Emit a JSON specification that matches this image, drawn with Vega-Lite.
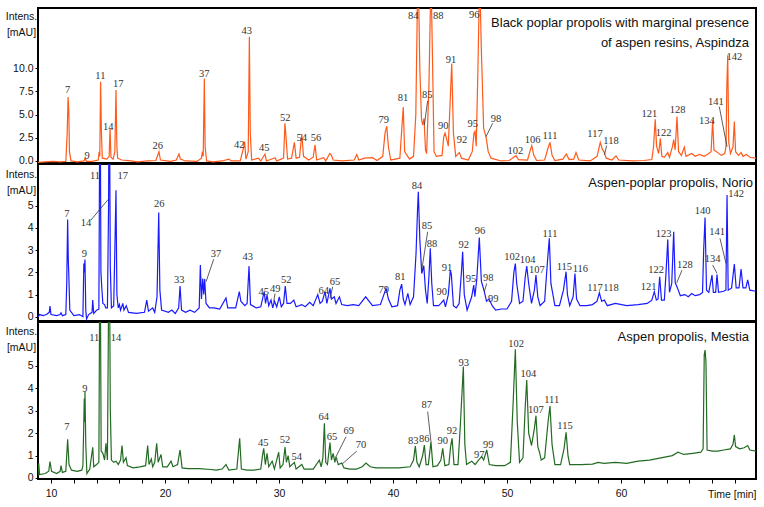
{
  "$schema": "https://vega.github.io/schema/vega-lite/v6.json",
  "background": "white",
  "padding": {"left": 4, "top": 7, "right": 5, "bottom": 5},
  "bounds": "flush",
  "spacing": 1,
  "datasets": {
    "a": [
      {"t":8.86,"v":-0.15},{"t":9.5,"v":-0.1},{"t":10.2,"v":-0.05},{"t":10.8,"v":-0.1},{"t":11.3,"v":-0.05},{"t":11.42,"v":3.0},{"t":11.5,"v":6.9},{"t":11.56,"v":5.5},{"t":11.62,"v":1.0},{"t":11.75,"v":0.0},
      {"t":12.3,"v":-0.1},{"t":12.9,"v":0.0},{"t":13.0,"v":0.35},{"t":13.1,"v":-0.05},{"t":13.6,"v":-0.05},{"t":14.15,"v":0.1},{"t":14.22,"v":1.0},{"t":14.28,"v":0.5},{"t":14.35,"v":8.55},{"t":14.42,"v":3.2},
      {"t":14.5,"v":0.3},{"t":14.9,"v":0.2},{"t":15.1,"v":0.5},{"t":15.18,"v":3.5},{"t":15.26,"v":0.4},{"t":15.45,"v":0.2},{"t":15.6,"v":1.0},{"t":15.7,"v":7.65},{"t":15.78,"v":1.5},{"t":15.85,"v":0.3},
      {"t":16.2,"v":0.1},{"t":17.0,"v":0.0},{"t":17.6,"v":-0.1},{"t":18.5,"v":0.0},{"t":19.2,"v":0.05},{"t":19.47,"v":1.0},{"t":19.6,"v":0.1},{"t":20.5,"v":-0.05},{"t":21.0,"v":0.1},{"t":21.1,"v":0.4},
      {"t":21.23,"v":0.75},{"t":21.35,"v":0.2},{"t":21.8,"v":0.0},{"t":22.8,"v":-0.05},{"t":23.2,"v":0.3},{"t":23.28,"v":1.0},{"t":23.35,"v":0.5},{"t":23.45,"v":8.9},{"t":23.52,"v":1.5},{"t":23.65,"v":0.0},
      {"t":24.2,"v":-0.1},{"t":25.0,"v":0.0},{"t":25.6,"v":0.2},{"t":25.8,"v":0.0},{"t":26.6,"v":0.0},{"t":26.9,"v":1.5},{"t":26.98,"v":2.1},{"t":27.1,"v":0.2},{"t":27.3,"v":1.0},{"t":27.4,"v":13.4},
      {"t":27.48,"v":3.0},{"t":27.6,"v":0.1},{"t":28.2,"v":0.3},{"t":28.4,"v":0.0},{"t":28.77,"v":0.75},{"t":28.9,"v":0.0},{"t":29.65,"v":0.35},{"t":29.8,"v":0.0},{"t":30.4,"v":0.3},{"t":30.52,"v":4.05},
      {"t":30.62,"v":2.5},{"t":30.75,"v":0.2},{"t":31.1,"v":0.3},{"t":31.35,"v":2.0},{"t":31.5,"v":0.3},{"t":31.8,"v":0.4},{"t":32.0,"v":2.9},{"t":32.15,"v":0.5},{"t":32.6,"v":0.1},{"t":33.0,"v":0.4},
      {"t":33.16,"v":1.75},{"t":33.3,"v":0.1},{"t":33.92,"v":0.35},{"t":34.1,"v":0.0},{"t":34.45,"v":0.8},{"t":34.6,"v":0.6},{"t":34.75,"v":0.1},{"t":35.5,"v":0.0},{"t":36.6,"v":0.1},{"t":36.82,"v":0.7},
      {"t":37.0,"v":0.1},{"t":37.5,"v":0.3},{"t":38.2,"v":0.35},{"t":38.6,"v":0.05},{"t":39.1,"v":0.5},{"t":39.3,"v":3.0},{"t":39.45,"v":3.75},{"t":39.6,"v":1.5},{"t":39.8,"v":0.1},{"t":40.6,"v":0.3},
      {"t":40.8,"v":4.0},{"t":40.9,"v":5.8},{"t":41.02,"v":1.0},{"t":41.29,"v":0.5},{"t":41.45,"v":0.2},{"t":41.8,"v":0.5},{"t":42.0,"v":5.0},{"t":42.15,"v":18.0},{"t":42.22,"v":20.0},{"t":42.35,"v":10.0},
      {"t":42.5,"v":4.5},{"t":42.6,"v":3.9},{"t":42.72,"v":4.6},{"t":42.85,"v":1.2},{"t":42.95,"v":0.8},{"t":43.15,"v":8.0},{"t":43.33,"v":20.0},{"t":43.45,"v":12.0},{"t":43.6,"v":1.0},{"t":43.8,"v":0.5},
      {"t":44.3,"v":0.6},{"t":44.45,"v":2.6},{"t":44.56,"v":3.0},{"t":44.7,"v":2.4},{"t":44.85,"v":1.6},{"t":45.0,"v":6.0},{"t":45.15,"v":10.5},{"t":45.3,"v":3.0},{"t":45.5,"v":0.5},{"t":45.82,"v":0.9},
      {"t":46.0,"v":0.3},{"t":46.6,"v":0.1},{"t":46.95,"v":1.0},{"t":47.1,"v":3.0},{"t":47.19,"v":3.2},{"t":47.3,"v":1.6},{"t":47.45,"v":10.0},{"t":47.6,"v":20.0},{"t":47.75,"v":12.0},{"t":47.95,"v":3.5},
      {"t":48.16,"v":2.6},{"t":48.35,"v":1.0},{"t":48.6,"v":0.3},{"t":49.5,"v":0.0},{"t":50.2,"v":0.05},{"t":50.65,"v":0.45},{"t":50.79,"v":0.57},{"t":51.0,"v":0.15},{"t":51.8,"v":0.1},{"t":52.05,"v":1.2},
      {"t":52.17,"v":1.65},{"t":52.35,"v":0.6},{"t":52.6,"v":0.05},{"t":53.3,"v":0.1},{"t":53.6,"v":1.4},{"t":53.77,"v":2.0},{"t":53.95,"v":0.6},{"t":54.2,"v":0.05},{"t":54.9,"v":0.2},{"t":55.2,"v":0.75},
      {"t":55.45,"v":0.15},{"t":55.85,"v":0.2},{"t":56.05,"v":0.9},{"t":56.3,"v":0.1},{"t":57.3,"v":0.0},{"t":57.9,"v":0.5},{"t":58.18,"v":2.0},{"t":58.35,"v":1.3},{"t":58.54,"v":0.9},{"t":58.7,"v":0.3},
      {"t":59.2,"v":0.1},{"t":59.56,"v":0.55},{"t":59.8,"v":0.1},{"t":61.0,"v":0.0},{"t":62.0,"v":0.05},{"t":62.7,"v":0.15},{"t":62.85,"v":1.5},{"t":63.0,"v":4.5},{"t":63.12,"v":1.6},{"t":63.3,"v":0.8},
      {"t":63.45,"v":2.45},{"t":63.58,"v":0.5},{"t":63.8,"v":0.4},{"t":64.1,"v":0.9},{"t":64.25,"v":0.4},{"t":64.5,"v":1.5},{"t":64.62,"v":2.3},{"t":64.75,"v":1.2},{"t":64.91,"v":4.8},{"t":65.05,"v":1.0},
      {"t":65.3,"v":0.6},{"t":65.55,"v":1.5},{"t":65.7,"v":0.5},{"t":66.2,"v":0.8},{"t":66.5,"v":0.5},{"t":66.9,"v":0.7},{"t":67.3,"v":0.5},{"t":67.7,"v":0.8},{"t":67.9,"v":1.0},{"t":68.04,"v":4.4},
      {"t":68.15,"v":1.2},{"t":68.48,"v":0.9},{"t":68.8,"v":0.6},{"t":69.1,"v":0.8},{"t":69.21,"v":1.6},{"t":69.28,"v":8.0},{"t":69.36,"v":11.4},{"t":69.45,"v":2.0},{"t":69.6,"v":0.8},{"t":69.82,"v":1.5},
      {"t":69.94,"v":4.25},{"t":70.05,"v":1.0},{"t":70.3,"v":0.6},{"t":70.53,"v":0.9},{"t":70.7,"v":0.5},{"t":71.0,"v":0.7},{"t":71.3,"v":0.4},{"t":71.84,"v":0.3}
    ],
    "b": [
      {"t":8.86,"v":0.0},{"t":9.0,"v":0.1},{"t":9.3,"v":0.05},{"t":9.6,"v":0.1},{"t":9.85,"v":0.2},{"t":9.91,"v":0.48},{"t":10.0,"v":0.1},{"t":10.5,"v":0.05},{"t":10.8,"v":0.1},{"t":10.88,"v":0.18},
      {"t":11.0,"v":0.05},{"t":11.3,"v":0.1},{"t":11.38,"v":1.5},{"t":11.46,"v":4.38},{"t":11.52,"v":2.5},{"t":11.56,"v":1.9},{"t":11.65,"v":0.3},{"t":12.0,"v":0.05},{"t":12.5,"v":0.1},{"t":12.8,"v":0.0},
      {"t":12.88,"v":2.4},{"t":12.92,"v":2.0},{"t":12.98,"v":2.58},{"t":13.05,"v":0.3},{"t":13.12,"v":-0.1},{"t":13.3,"v":0.1},{"t":13.6,"v":0.2},{"t":13.66,"v":0.75},{"t":13.75,"v":0.15},{"t":14.0,"v":0.3},
      {"t":14.2,"v":0.35},{"t":14.3,"v":12.0},{"t":14.38,"v":2.0},{"t":14.45,"v":1.35},{"t":14.55,"v":0.6},{"t":14.7,"v":0.55},{"t":14.8,"v":0.4},{"t":14.95,"v":0.4},{"t":15.05,"v":5.0},{"t":15.11,"v":12.0},
      {"t":15.2,"v":2.3},{"t":15.3,"v":0.4},{"t":15.5,"v":0.5},{"t":15.6,"v":3.0},{"t":15.7,"v":5.7},{"t":15.78,"v":1.0},{"t":15.9,"v":0.4},{"t":16.0,"v":0.55},{"t":16.1,"v":0.3},{"t":16.3,"v":0.6},
      {"t":16.4,"v":0.3},{"t":16.6,"v":0.5},{"t":16.8,"v":0.2},{"t":17.5,"v":0.15},{"t":18.2,"v":0.2},{"t":18.4,"v":0.75},{"t":18.55,"v":0.25},{"t":18.92,"v":0.4},{"t":19.1,"v":0.2},{"t":19.3,"v":0.9},
      {"t":19.45,"v":4.7},{"t":19.55,"v":1.2},{"t":19.7,"v":0.3},{"t":20.3,"v":0.2},{"t":20.6,"v":0.3},{"t":20.9,"v":0.15},{"t":21.2,"v":0.4},{"t":21.32,"v":1.38},{"t":21.45,"v":0.3},{"t":21.8,"v":0.2},
      {"t":22.2,"v":0.3},{"t":22.6,"v":0.2},{"t":23.0,"v":0.4},{"t":23.1,"v":2.33},{"t":23.2,"v":0.8},{"t":23.31,"v":1.72},{"t":23.4,"v":1.0},{"t":23.48,"v":1.7},{"t":23.6,"v":0.6},{"t":23.9,"v":0.4},
      {"t":24.3,"v":0.4},{"t":24.8,"v":0.35},{"t":25.35,"v":0.85},{"t":25.5,"v":0.4},{"t":26.2,"v":0.4},{"t":26.52,"v":1.13},{"t":26.65,"v":0.7},{"t":27.0,"v":0.5},{"t":27.2,"v":0.6},{"t":27.37,"v":2.28},
      {"t":27.5,"v":0.55},{"t":28.0,"v":0.4},{"t":28.4,"v":0.45},{"t":28.7,"v":1.13},{"t":28.82,"v":0.6},{"t":28.95,"v":0.98},{"t":29.1,"v":0.5},{"t":29.3,"v":0.75},{"t":29.45,"v":0.4},{"t":29.6,"v":0.7},
      {"t":29.8,"v":0.45},{"t":30.03,"v":0.9},{"t":30.2,"v":0.45},{"t":30.4,"v":0.6},{"t":30.55,"v":1.38},{"t":30.7,"v":0.6},{"t":31.0,"v":0.6},{"t":31.3,"v":0.75},{"t":31.5,"v":0.45},{"t":32.0,"v":0.55},
      {"t":32.3,"v":0.45},{"t":32.7,"v":0.65},{"t":33.0,"v":0.5},{"t":33.4,"v":1.0},{"t":33.6,"v":0.6},{"t":33.8,"v":0.7},{"t":34.04,"v":1.13},{"t":34.2,"v":0.6},{"t":34.47,"v":1.28},{"t":34.6,"v":0.8},
      {"t":34.85,"v":0.9},{"t":35.0,"v":0.6},{"t":35.3,"v":0.9},{"t":35.5,"v":0.55},{"t":36.0,"v":0.5},{"t":36.5,"v":0.55},{"t":37.0,"v":0.5},{"t":37.6,"v":0.9},{"t":38.2,"v":0.5},{"t":38.9,"v":0.55},
      {"t":39.2,"v":1.0},{"t":39.39,"v":1.28},{"t":39.6,"v":0.8},{"t":39.9,"v":0.45},{"t":40.4,"v":0.5},{"t":40.6,"v":1.2},{"t":40.76,"v":1.47},{"t":40.9,"v":0.8},{"t":41.05,"v":0.55},{"t":41.3,"v":1.05},
      {"t":41.5,"v":0.55},{"t":41.8,"v":0.9},{"t":42.02,"v":2.85},{"t":42.15,"v":4.8},{"t":42.22,"v":5.63},{"t":42.35,"v":3.5},{"t":42.52,"v":1.95},{"t":42.7,"v":2.3},{"t":42.85,"v":1.2},{"t":43.0,"v":0.6},
      {"t":43.15,"v":1.8},{"t":43.27,"v":3.08},{"t":43.4,"v":1.5},{"t":43.55,"v":0.5},{"t":44.0,"v":0.5},{"t":44.2,"v":0.6},{"t":44.45,"v":0.75},{"t":44.6,"v":0.45},{"t":44.85,"v":1.0},{"t":45.03,"v":2.1},
      {"t":45.12,"v":1.9},{"t":45.3,"v":0.5},{"t":45.55,"v":0.4},{"t":45.8,"v":0.6},{"t":46.0,"v":2.0},{"t":46.11,"v":2.93},{"t":46.25,"v":1.0},{"t":46.5,"v":0.3},{"t":46.9,"v":0.9},{"t":47.08,"v":1.43},
      {"t":47.18,"v":0.9},{"t":47.35,"v":1.7},{"t":47.57,"v":3.57},{"t":47.75,"v":1.6},{"t":48.01,"v":1.13},{"t":48.2,"v":0.7},{"t":48.42,"v":0.8},{"t":48.7,"v":0.5},{"t":49.0,"v":0.3},{"t":49.5,"v":0.35},
      {"t":50.0,"v":0.35},{"t":50.4,"v":0.7},{"t":50.6,"v":2.0},{"t":50.73,"v":2.4},{"t":50.85,"v":1.5},{"t":51.1,"v":0.6},{"t":51.4,"v":0.7},{"t":51.6,"v":1.8},{"t":51.73,"v":2.28},{"t":51.9,"v":1.5},
      {"t":52.15,"v":0.6},{"t":52.4,"v":1.2},{"t":52.54,"v":1.88},{"t":52.7,"v":0.9},{"t":52.9,"v":0.5},{"t":53.3,"v":0.7},{"t":53.55,"v":2.5},{"t":53.71,"v":3.53},{"t":53.85,"v":1.5},{"t":54.2,"v":0.5},
      {"t":54.6,"v":0.5},{"t":54.95,"v":1.2},{"t":55.18,"v":2.03},{"t":55.3,"v":1.0},{"t":55.5,"v":0.5},{"t":55.8,"v":0.9},{"t":55.96,"v":1.95},{"t":56.1,"v":0.8},{"t":56.4,"v":0.5},{"t":57.0,"v":0.5},
      {"t":57.5,"v":0.55},{"t":57.9,"v":0.7},{"t":58.1,"v":1.08},{"t":58.3,"v":0.7},{"t":58.54,"v":0.75},{"t":58.8,"v":0.5},{"t":59.5,"v":0.6},{"t":60.5,"v":0.5},{"t":61.5,"v":0.55},{"t":62.3,"v":0.6},
      {"t":62.7,"v":0.75},{"t":62.92,"v":1.13},{"t":63.1,"v":0.75},{"t":63.25,"v":0.8},{"t":63.39,"v":1.8},{"t":63.55,"v":0.75},{"t":63.8,"v":0.75},{"t":63.95,"v":2.0},{"t":64.1,"v":3.48},{"t":64.25,"v":1.1},
      {"t":64.45,"v":1.5},{"t":64.62,"v":3.83},{"t":64.75,"v":1.55},{"t":64.95,"v":1.3},{"t":65.2,"v":0.95},{"t":65.6,"v":1.0},{"t":65.9,"v":0.9},{"t":66.2,"v":1.05},{"t":66.5,"v":0.95},{"t":66.9,"v":1.0},
      {"t":67.15,"v":1.1},{"t":67.25,"v":3.0},{"t":67.37,"v":4.47},{"t":67.5,"v":1.2},{"t":67.7,"v":1.1},{"t":67.98,"v":1.88},{"t":68.1,"v":1.1},{"t":68.3,"v":1.1},{"t":68.42,"v":1.9},{"t":68.55,"v":1.1},
      {"t":69.0,"v":1.15},{"t":69.2,"v":1.2},{"t":69.3,"v":5.48},{"t":69.4,"v":1.2},{"t":69.7,"v":1.3},{"t":69.94,"v":2.37},{"t":70.1,"v":1.3},{"t":70.35,"v":1.3},{"t":70.53,"v":2.15},{"t":70.7,"v":1.3},
      {"t":70.95,"v":1.3},{"t":71.11,"v":1.66},{"t":71.3,"v":1.2},{"t":71.84,"v":1.15}
    ],
    "c": [
      {"t":8.86,"v":0.1},{"t":8.92,"v":0.65},{"t":9.0,"v":0.15},{"t":9.5,"v":0.2},{"t":9.8,"v":0.3},{"t":9.91,"v":0.73},{"t":10.05,"v":0.3},{"t":10.5,"v":0.2},{"t":10.8,"v":0.3},{"t":10.88,"v":0.55},
      {"t":11.0,"v":0.25},{"t":11.3,"v":0.3},{"t":11.46,"v":1.73},{"t":11.58,"v":0.6},{"t":11.8,"v":0.35},{"t":12.3,"v":0.3},{"t":12.7,"v":0.35},{"t":12.8,"v":0.55},{"t":12.92,"v":3.55},{"t":12.95,"v":2.5},
      {"t":12.98,"v":3.85},{"t":13.05,"v":1.5},{"t":13.15,"v":0.2},{"t":13.4,"v":0.4},{"t":13.66,"v":1.37},{"t":13.75,"v":0.5},{"t":14.0,"v":0.6},{"t":14.2,"v":0.7},{"t":14.3,"v":12.0},{"t":14.4,"v":1.2},
      {"t":14.55,"v":1.1},{"t":14.7,"v":0.8},{"t":14.82,"v":1.55},{"t":14.95,"v":0.8},{"t":15.11,"v":12.0},{"t":15.2,"v":3.1},{"t":15.3,"v":0.8},{"t":15.5,"v":0.7},{"t":15.7,"v":0.75},{"t":15.9,"v":0.6},
      {"t":16.1,"v":0.8},{"t":16.23,"v":1.45},{"t":16.35,"v":0.7},{"t":16.58,"v":0.9},{"t":16.7,"v":0.55},{"t":17.2,"v":0.45},{"t":17.8,"v":0.5},{"t":18.3,"v":0.55},{"t":18.48,"v":1.45},{"t":18.6,"v":0.6},
      {"t":18.8,"v":0.85},{"t":18.92,"v":0.5},{"t":19.1,"v":0.7},{"t":19.27,"v":1.55},{"t":19.4,"v":0.7},{"t":19.65,"v":1.05},{"t":19.8,"v":0.5},{"t":20.2,"v":0.5},{"t":20.53,"v":0.75},{"t":20.7,"v":0.5},
      {"t":21.1,"v":0.6},{"t":21.32,"v":1.25},{"t":21.5,"v":0.45},{"t":22.0,"v":0.42},{"t":23.0,"v":0.42},{"t":24.0,"v":0.38},{"t":24.5,"v":0.35},{"t":25.0,"v":0.4},{"t":25.35,"v":0.6},{"t":25.6,"v":0.35},
      {"t":26.3,"v":0.4},{"t":26.55,"v":1.77},{"t":26.7,"v":0.4},{"t":27.2,"v":0.35},{"t":27.8,"v":0.35},{"t":28.4,"v":0.4},{"t":28.55,"v":1.0},{"t":28.66,"v":1.32},{"t":28.8,"v":0.6},{"t":28.95,"v":1.1},
      {"t":29.1,"v":0.5},{"t":29.4,"v":0.75},{"t":29.6,"v":0.4},{"t":29.97,"v":1.15},{"t":30.1,"v":0.45},{"t":30.35,"v":0.6},{"t":30.53,"v":1.38},{"t":30.65,"v":0.7},{"t":30.8,"v":1.0},{"t":30.95,"v":0.5},
      {"t":31.35,"v":0.7},{"t":31.5,"v":0.4},{"t":32.0,"v":0.6},{"t":32.2,"v":0.4},{"t":33.0,"v":0.4},{"t":33.54,"v":0.8},{"t":33.7,"v":0.5},{"t":33.85,"v":0.9},{"t":33.98,"v":2.44},{"t":34.1,"v":0.7},
      {"t":34.25,"v":0.6},{"t":34.47,"v":1.58},{"t":34.6,"v":0.8},{"t":34.75,"v":1.1},{"t":34.9,"v":0.7},{"t":35.0,"v":0.95},{"t":35.2,"v":0.6},{"t":35.5,"v":0.67},{"t":35.7,"v":0.45},{"t":36.2,"v":0.4},
      {"t":36.8,"v":0.4},{"t":37.3,"v":0.5},{"t":37.63,"v":0.67},{"t":38.0,"v":0.5},{"t":38.5,"v":0.45},{"t":39.5,"v":0.45},{"t":40.5,"v":0.45},{"t":41.5,"v":0.5},{"t":41.8,"v":0.8},{"t":41.96,"v":1.43},
      {"t":42.1,"v":0.7},{"t":42.3,"v":0.5},{"t":42.6,"v":1.0},{"t":42.75,"v":1.47},{"t":42.9,"v":0.6},{"t":43.1,"v":0.6},{"t":43.33,"v":1.62},{"t":43.5,"v":0.5},{"t":43.9,"v":0.55},{"t":44.2,"v":0.8},
      {"t":44.36,"v":1.32},{"t":44.55,"v":0.55},{"t":44.9,"v":0.6},{"t":45.05,"v":1.4},{"t":45.18,"v":1.77},{"t":45.35,"v":0.6},{"t":45.7,"v":0.6},{"t":45.9,"v":2.3},{"t":46.17,"v":4.97},{"t":46.3,"v":1.5},
      {"t":46.45,"v":0.6},{"t":46.9,"v":0.75},{"t":47.2,"v":0.6},{"t":47.5,"v":0.8},{"t":47.78,"v":0.95},{"t":47.95,"v":0.8},{"t":48.22,"v":1.25},{"t":48.45,"v":0.6},{"t":49.0,"v":0.55},{"t":49.8,"v":0.55},
      {"t":50.3,"v":0.7},{"t":50.55,"v":3.5},{"t":50.73,"v":5.74},{"t":50.9,"v":2.5},{"t":51.1,"v":0.7},{"t":51.4,"v":0.9},{"t":51.6,"v":3.2},{"t":51.73,"v":4.37},{"t":51.9,"v":2.0},{"t":52.15,"v":1.45},
      {"t":52.4,"v":2.2},{"t":52.54,"v":2.78},{"t":52.7,"v":1.4},{"t":52.85,"v":1.15},{"t":53.0,"v":0.8},{"t":53.3,"v":0.9},{"t":53.6,"v":2.5},{"t":53.77,"v":3.21},{"t":53.95,"v":1.5},{"t":54.2,"v":0.6},
      {"t":54.7,"v":0.6},{"t":55.0,"v":1.3},{"t":55.18,"v":2.04},{"t":55.35,"v":1.0},{"t":55.5,"v":0.6},{"t":56.5,"v":0.6},{"t":57.5,"v":0.62},{"t":58.0,"v":0.7},{"t":58.5,"v":0.65},{"t":59.5,"v":0.7},
      {"t":60.5,"v":0.65},{"t":61.5,"v":0.75},{"t":62.5,"v":0.8},{"t":63.5,"v":0.9},{"t":64.5,"v":1.0},{"t":65.0,"v":1.15},{"t":65.5,"v":1.05},{"t":66.3,"v":1.1},{"t":67.0,"v":1.15},{"t":67.2,"v":1.3},
      {"t":67.3,"v":5.5},{"t":67.37,"v":5.71},{"t":67.45,"v":5.2},{"t":67.55,"v":1.25},{"t":68.0,"v":1.2},{"t":68.5,"v":1.2},{"t":69.0,"v":1.25},{"t":69.6,"v":1.3},{"t":69.82,"v":1.5},{"t":69.94,"v":1.92},
      {"t":70.05,"v":1.4},{"t":70.4,"v":1.3},{"t":70.8,"v":1.35},{"t":71.11,"v":1.45},{"t":71.3,"v":1.25},{"t":71.84,"v":1.2}
    ],
    "la": [
      {"n":"7","t":11.46,"v":7.33},{"n":"9","t":13.16,"v":0.18},{"n":"11","t":14.33,"v":8.84},{"n":"14","t":15.03,"v":3.34},{"n":"17","t":15.9,"v":7.94},
      {"n":"26","t":19.36,"v":1.29},{"n":"37","t":23.45,"v":9.0},{"n":"42","t":26.52,"v":1.37},{"n":"43","t":27.16,"v":13.69},{"n":"45","t":28.71,"v":1.11},
      {"n":"52","t":30.55,"v":4.34},{"n":"54","t":31.99,"v":2.19},{"n":"56","t":33.25,"v":2.19},{"n":"79","t":39.18,"v":4.13},{"n":"81","t":40.88,"v":6.5},
      {"n":"84","t":41.78,"v":15.3},{"n":"85","t":43.0,"v":6.76},{"n":"88","t":43.97,"v":15.27},{"n":"90","t":44.41,"v":3.45},{"n":"91","t":45.09,"v":10.53},
      {"n":"92","t":46.05,"v":1.9},{"n":"95","t":46.99,"v":3.7},{"n":"96","t":47.13,"v":15.38},{"n":"98","t":49.04,"v":4.24},{"n":"102","t":50.73,"v":0.75},
      {"n":"106","t":52.25,"v":1.97},{"n":"111","t":53.77,"v":2.34},{"n":"117","t":57.72,"v":2.62},{"n":"118","t":59.12,"v":1.8},{"n":"121","t":62.48,"v":4.7},
      {"n":"122","t":63.74,"v":2.69},{"n":"128","t":64.97,"v":5.14},{"n":"134","t":67.54,"v":3.99},{"n":"141","t":68.33,"v":6.03},{"n":"142","t":69.94,"v":10.88}
    ],
    "ka": [
      {"t":43.04,"v":6.5,"t2":42.75,"v2":3.88},{"t":48.74,"v":4.06,"t2":48.16,"v2":2.62},{"t":58.74,"v":1.65,"t2":58.54,"v2":0.65},{"t":68.62,"v":5.85,"t2":69.3,"v2":1.54}
    ],
    "ta": [
      {"txt":"Black poplar propolis with marginal presence","t":71.23,"v":14.41},
      {"txt":"of aspen resins, Aspindza","t":71.23,"v":12.31}
    ],
    "lb": [
      {"n":"7","t":11.4,"v":4.5},{"n":"9","t":12.92,"v":2.68},{"n":"11","t":13.86,"v":6.19},{"n":"14","t":13.07,"v":4.09},{"n":"17","t":16.29,"v":6.19},
      {"n":"26","t":19.5,"v":4.95},{"n":"33","t":21.25,"v":1.53},{"n":"37","t":24.47,"v":2.7},{"n":"43","t":27.25,"v":2.55},{"n":"45","t":28.66,"v":0.98},
      {"n":"49","t":29.68,"v":1.13},{"n":"52","t":30.64,"v":1.53},{"n":"64","t":33.92,"v":1.01},{"n":"65","t":34.91,"v":1.43},{"n":"79","t":39.18,"v":1.05},
      {"n":"81","t":40.64,"v":1.65},{"n":"84","t":42.1,"v":5.74},{"n":"85","t":42.98,"v":3.94},{"n":"88","t":43.42,"v":3.15},{"n":"90","t":44.27,"v":0.98},
      {"n":"91","t":44.74,"v":2.07},{"n":"92","t":46.2,"v":3.08},{"n":"95","t":46.84,"v":1.58},{"n":"96","t":47.63,"v":3.73},{"n":"98","t":48.36,"v":1.62},
      {"n":"99","t":48.8,"v":0.68},{"n":"102","t":50.44,"v":2.55},{"n":"104","t":51.81,"v":2.4},{"n":"107","t":52.63,"v":1.95},{"n":"111","t":53.77,"v":3.6},
      {"n":"115","t":55.03,"v":2.1},{"n":"116","t":56.43,"v":2.03},{"n":"117","t":57.72,"v":1.17},{"n":"118","t":59.12,"v":1.17},{"n":"121","t":62.43,"v":1.2},
      {"n":"122","t":63.07,"v":1.95},{"n":"123","t":63.74,"v":3.58},{"n":"128","t":65.61,"v":2.18},{"n":"134","t":68.04,"v":2.48},{"n":"140","t":67.16,"v":4.61},
      {"n":"141","t":68.42,"v":3.68},{"n":"142","t":70.09,"v":5.38}
    ],
    "kb": [
      {"t":13.51,"v":4.36,"t2":15.03,"v2":5.29},{"t":24.27,"v":2.59,"t2":23.6,"v2":1.58},{"t":29.65,"v":1.05,"t2":29.53,"v2":0.68},{"t":34.71,"v":1.35,"t2":34.47,"v2":0.83},
      {"t":43.04,"v":3.83,"t2":42.52,"v2":2.1},{"t":48.22,"v":1.5,"t2":48.01,"v2":1.13},{"t":65.35,"v":2.1,"t2":64.89,"v2":1.53},{"t":68.04,"v":2.33,"t2":68.42,"v2":1.95},
      {"t":68.68,"v":3.53,"t2":69.21,"v2":2.4}
    ],
    "tb": [
      {"txt":"Aspen-poplar propolis, Norio","t":71.58,"v":5.86}
    ],
    "lc": [
      {"n":"7","t":11.4,"v":2.14},{"n":"9","t":12.98,"v":3.82},{"n":"11","t":13.8,"v":6.13},{"n":"14","t":15.7,"v":6.13},{"n":"45","t":28.62,"v":1.43},
      {"n":"52","t":30.53,"v":1.55},{"n":"54","t":31.55,"v":0.8},{"n":"64","t":33.92,"v":2.59},{"n":"65","t":34.65,"v":1.7},{"n":"69","t":36.11,"v":1.96},
      {"n":"70","t":37.19,"v":1.33},{"n":"83","t":41.78,"v":1.52},{"n":"86","t":42.75,"v":1.62},{"n":"87","t":42.96,"v":3.11},{"n":"90","t":44.36,"v":1.52},
      {"n":"92","t":45.18,"v":1.95},{"n":"93","t":46.2,"v":5.01},{"n":"97","t":47.57,"v":0.88},{"n":"99","t":48.36,"v":1.33},{"n":"102","t":50.79,"v":5.86},
      {"n":"104","t":51.87,"v":4.52},{"n":"107","t":52.54,"v":2.92},{"n":"111","t":53.92,"v":3.33},{"n":"115","t":55.09,"v":2.17}
    ],
    "kc": [
      {"t":35.88,"v":1.84,"t2":35.0,"v2":0.95},{"t":36.82,"v":1.2,"t2":35.53,"v2":0.62},{"t":43.04,"v":2.96,"t2":43.33,"v2":1.62}
    ],
    "tc": [
      {"txt":"Aspen propolis, Mestia","t":71.23,"v":6.13}
    ]
  },
  "vconcat": [
    {
      "width": 718, "height": 155,
      "encoding": {
        "x": {"field": "t", "type": "quantitative", "scale": {"domain": [8.86, 71.84], "nice": false, "zero": false}, "axis": null},
        "y": {"field": "v", "type": "quantitative", "scale": {"domain": [-0.22, 16.49], "nice": false, "zero": false},
          "axis": {"values": [0, 2.5, 5, 7.5, 10], "format": ".1f", "title": ["Intens.", "[mAU]"], "titleY": 3}}
      },
      "layer": [
        {"data": {"name": "a"}, "mark": {"type": "line", "color": "#FF5A1A", "strokeWidth": 1.2, "clip": true}},
        {"data": {"name": "ka"}, "mark": {"type": "rule", "color": "#333", "strokeWidth": 0.8}, "encoding": {"x2": {"field": "t2"}, "y2": {"field": "v2"}}},
        {"data": {"name": "la"}, "mark": {"type": "text", "font": "Liberation Serif", "fontSize": 10.5, "color": "#333", "baseline": "alphabetic", "align": "center"}, "encoding": {"text": {"field": "n"}}},
        {"data": {"name": "ta"}, "mark": {"type": "text", "font": "Liberation Sans", "fontSize": 13, "color": "#111", "align": "right", "baseline": "alphabetic"}, "encoding": {"text": {"field": "txt"}}}
      ]
    },
    {
      "width": 718, "height": 157,
      "encoding": {
        "x": {"field": "t", "type": "quantitative", "scale": {"domain": [8.86, 71.84], "nice": false, "zero": false}, "axis": null},
        "y": {"field": "v", "type": "quantitative", "scale": {"domain": [-0.19, 6.88], "nice": false, "zero": false},
          "axis": {"values": [0, 1, 2, 3, 4, 5], "format": "d", "title": ["Intens.", "[mAU]"], "titleY": 5}}
      },
      "layer": [
        {"data": {"name": "b"}, "mark": {"type": "line", "color": "#1A1AFF", "strokeWidth": 1.2, "clip": true}},
        {"data": {"name": "kb"}, "mark": {"type": "rule", "color": "#333", "strokeWidth": 0.8}, "encoding": {"x2": {"field": "t2"}, "y2": {"field": "v2"}}},
        {"data": {"name": "lb"}, "mark": {"type": "text", "font": "Liberation Serif", "fontSize": 10.5, "color": "#333", "baseline": "alphabetic", "align": "center"}, "encoding": {"text": {"field": "n"}}},
        {"data": {"name": "tb"}, "mark": {"type": "text", "font": "Liberation Sans", "fontSize": 13, "color": "#111", "align": "right", "baseline": "alphabetic"}, "encoding": {"text": {"field": "txt"}}}
      ]
    },
    {
      "width": 718, "height": 157,
      "encoding": {
        "x": {"field": "t", "type": "quantitative", "scale": {"domain": [8.86, 71.84], "nice": false, "zero": false},
          "axis": {"values": [10,12,14,16,18,20,22,24,26,28,30,32,34,36,38,40,42,44,46,48,50,52,54,56,58,60,62,64,66,68,70],
            "labelExpr": "datum.value % 10 === 0 && datum.value < 70 ? datum.label : ''", "labelOverlap": false, "tickSize": 4, "labelPadding": 5,
            "title": "Time [min]", "titleX": 718, "titleY": 10, "titleAlign": "right", "titleBaseline": "top", "titleAngle": 0}},
        "y": {"field": "v", "type": "quantitative", "scale": {"domain": [-0.045, 6.96], "nice": false, "zero": false},
          "axis": {"values": [0, 1, 2, 3, 4, 5], "format": "d", "title": ["Intens.", "[mAU]"], "titleY": 4}}
      },
      "layer": [
        {"data": {"name": "c"}, "mark": {"type": "line", "color": "#236B23", "strokeWidth": 1.2, "clip": true}},
        {"data": {"name": "kc"}, "mark": {"type": "rule", "color": "#333", "strokeWidth": 0.8}, "encoding": {"x2": {"field": "t2"}, "y2": {"field": "v2"}}},
        {"data": {"name": "lc"}, "mark": {"type": "text", "font": "Liberation Serif", "fontSize": 10.5, "color": "#333", "baseline": "alphabetic", "align": "center"}, "encoding": {"text": {"field": "n"}}},
        {"data": {"name": "tc"}, "mark": {"type": "text", "font": "Liberation Sans", "fontSize": 13, "color": "#111", "align": "right", "baseline": "alphabetic"}, "encoding": {"text": {"field": "txt"}}}
      ]
    }
  ],
  "resolve": {"scale": {"x": "independent", "y": "independent"}},
  "config": {
    "view": {"stroke": "#000", "strokeWidth": 2},
    "axis": {"grid": false, "domain": false, "tickColor": "#000", "labelColor": "#111", "titleColor": "#111",
      "labelFont": "Liberation Sans", "titleFont": "Liberation Sans",
      "labelFontSize": 10.5, "titleFontSize": 10.5, "titleFontWeight": "normal"},
    "axisY": {"tickSize": 3, "labelPadding": 2, "titleAngle": 0, "titleAlign": "center", "titleX": -17, "titleBaseline": "top", "titleLineHeight": 16}
  }
}
